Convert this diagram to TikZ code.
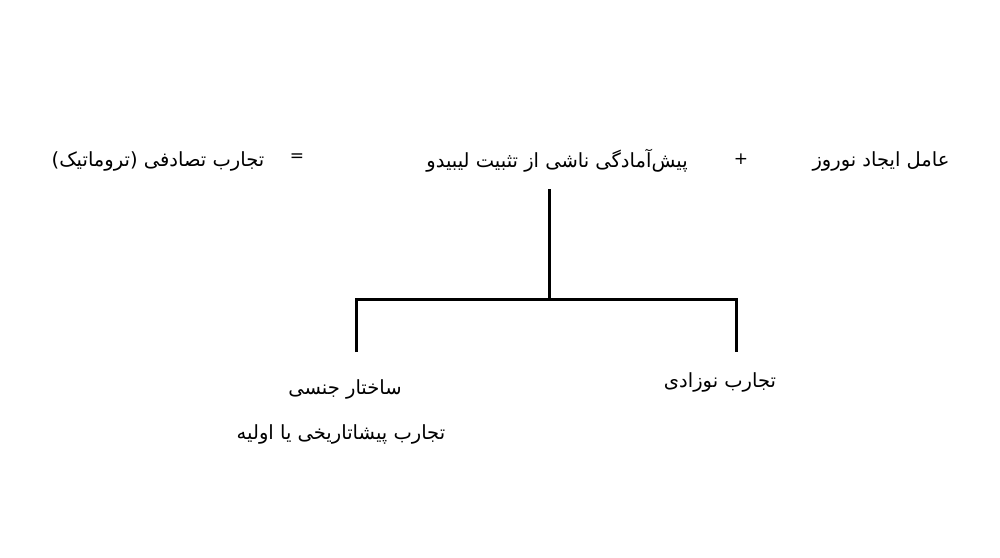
\documentclass[tikz,border=0pt]{standalone}
\usepackage{fontspec}
\TeXXeTstate=1
\newfontfamily\fa[Script=Arabic]{DejaVu Sans}
\begin{document}
\begin{tikzpicture}[x=1pt,y=-1pt,
  lbl/.style={inner sep=0pt,font=\fa\fontsize{19.5}{22}\selectfont},
  sym/.style={inner sep=0pt,font=\fa\fontsize{17}{19}\selectfont},
  conn/.style={line width=3pt}]
\useasboundingbox[fill=white] (0,0) rectangle (1000,557);
\node[lbl] (cause) at (881,161) {\beginR عامل ایجاد نوروز\endR};
\node[sym] (plus) at (741,159) {+};
\node[lbl] (pre) at (557,161) {\beginR پیش‌آمادگی ناشی از تثبیت لیبیدو\endR};
\node[sym] (eq) at (297,158) {=};
\node[lbl] (acc) at (158,161) {\beginR تجارب تصادفی (تروماتیک)\endR};
\coordinate (top) at (549,189);
\coordinate (mid) at (549,299);
\coordinate (lc) at (356,299);
\coordinate (rc) at (736,299);
\coordinate (lb) at (356,352);
\coordinate (rb) at (736,352);
\node[lbl] (inf) at (720,382) {\beginR تجارب نوزادی\endR};
\node[lbl] (sex) at (345,389) {\beginR ساختار جنسی\endR};
\node[lbl] (pre2) at (341,434) {\beginR تجارب پیشاتاریخی یا اولیه\endR};
\draw[conn] (top) -- (mid);
\draw[conn] (lb) -- (lc) -- (rc) -- (rb);
\end{tikzpicture}
\end{document}
